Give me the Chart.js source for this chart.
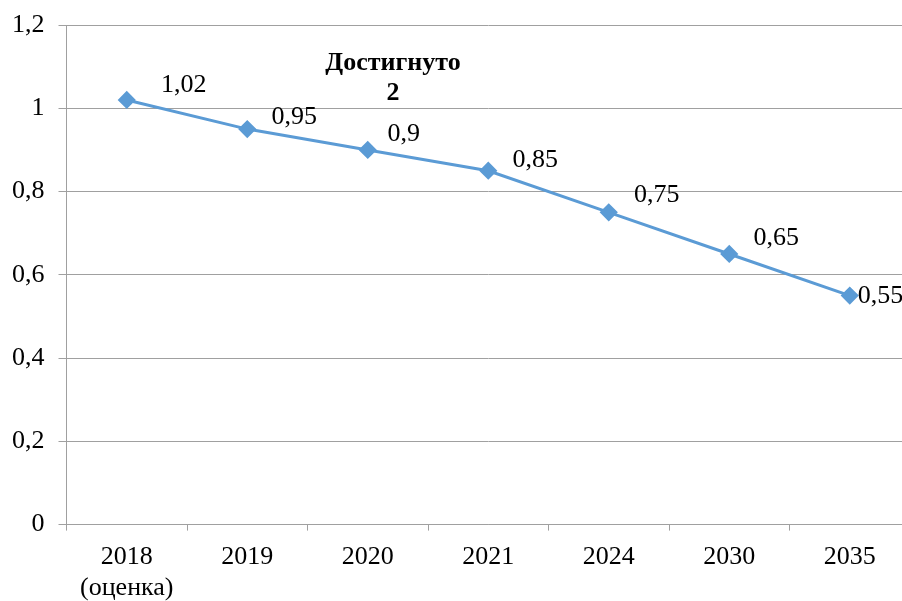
<!DOCTYPE html>
<html>
<head>
<meta charset="utf-8">
<script src="https://cdn.jsdelivr.net/npm/chart.js@4/dist/chart.umd.min.js"></script>
<style>
html,body{margin:0;padding:0;background:#fff;overflow:hidden;}
#wrap{width:920px;height:601px;position:relative;}
</style>
</head>
<body>
<div id="wrap"><canvas id="c"></canvas></div>
<script>
const categories = [["2018","(оценка)"], "2019", "2020", "2021", "2024", "2030", "2035"];
const values = [1.02, 0.95, 0.9, 0.85, 0.75, 0.65, 0.55];
const yTicks = [0, 0.2, 0.4, 0.6, 0.8, 1, 1.2];
const annotationLines = ["Достигнуто", "2"];

const fmt = v => String(v).replace('.', ',');
const FONT = "'Liberation Serif', 'Times New Roman', serif";

const labelPlugin = {
  id: 'pointLabels',
  afterDatasetsDraw(chart, args, opts) {
    const ctx = chart.ctx;
    const meta = chart.getDatasetMeta(0);
    ctx.save();
    ctx.font = "26px " + FONT;
    ctx.fillStyle = "#000";
    ctx.textBaseline = "middle";
    meta.data.forEach((pt, i) => {
      const off = opts.offsets[i];
      ctx.textAlign = off[2] || "center";
      ctx.fillText(fmt(values[i]), pt.x + off[0], pt.y + off[1]);
    });
    ctx.font = "bold 26px " + FONT;
    ctx.textAlign = "center";
    annotationLines.forEach((t, i) => {
      ctx.fillText(t, opts.annX, opts.annY + i * 30);
    });
    ctx.restore();
  }
};

new Chart(document.getElementById('c'), {
  type: 'line',
  data: {
    labels: categories,
    datasets: [{
      data: values,
      borderColor: '#5B9BD5',
      backgroundColor: '#5B9BD5',
      borderWidth: 3,
      pointStyle: 'rectRot',
      pointRadius: 7,
      pointHoverRadius: 7,
      tension: 0,
      fill: false
    }]
  },
  options: {
    responsive: true,
    maintainAspectRatio: false,
    animation: false,
    events: [],
    layout: { padding: { left: -2, top: 25, right: 0, bottom: -14 } },
    plugins: {
      legend: { display: false },
      tooltip: { enabled: false },
      pointLabels: {
        offsets: [[57, -15], [47, -12], [36, -16], [47, -11], [48, -17], [47, -16], [8, 1, 'left']],
        annX: 393, annY: 63
      }
    },
    scales: {
      x: {
        offset: true,
        grid: { offset: true, drawOnChartArea: false, drawTicks: true, tickLength: 6, color: '#a0a0a0' },
        border: { color: '#a0a0a0', width: 1 },
        ticks: { color: '#000', font: { family: FONT, size: 26, lineHeight: 1.2 }, padding: 11, maxRotation: 0, autoSkip: false }
      },
      y: {
        min: 0, max: 1.2,
        afterBuildTicks: s => { s.ticks = yTicks.map(v => ({ value: v })); },
        grid: { color: '#a0a0a0', tickLength: 8, lineWidth: 1 },
        border: { color: '#a0a0a0', width: 1 },
        ticks: { color: '#000', font: { family: FONT, size: 26, lineHeight: 0.8 }, padding: 14, callback: v => fmt(v) }
      }
    }
  },
  plugins: [labelPlugin]
});
</script>
</body>
</html>
